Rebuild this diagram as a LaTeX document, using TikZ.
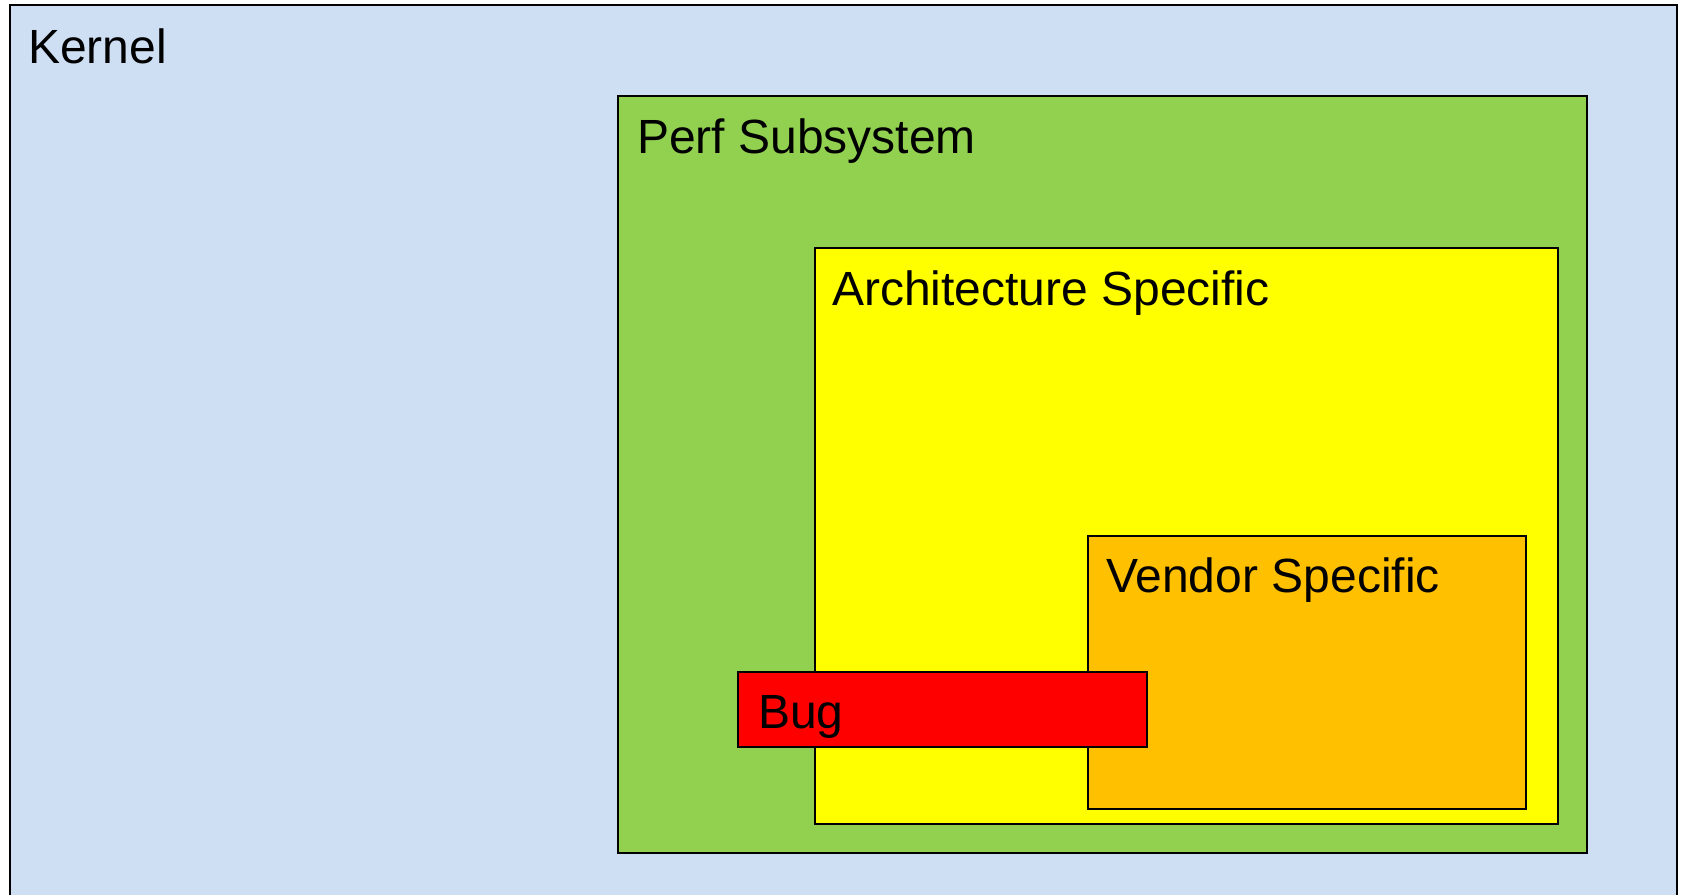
\documentclass[tikz,border=0pt]{standalone}
\usepackage{fontspec}
\setmainfont{Liberation Sans}
\definecolor{kernelblue}{HTML}{CFDFF3}
\definecolor{perfgreen}{HTML}{92D050}
\definecolor{archyellow}{HTML}{FFFF00}
\definecolor{vendororange}{HTML}{FFC000}
\definecolor{bugred}{HTML}{FF0000}
\tikzset{
  layer/.style={draw=black, line width=2.2pt, rectangle, anchor=north west, inner sep=0pt, outer sep=0pt},
  tag/.style={anchor=base west, inner sep=0pt, font=\fontsize{48}{57}\selectfont, text=black}
}
\begin{document}
\begin{tikzpicture}[x=1pt, y=-1pt]
  \useasboundingbox (0,0) rectangle (1683,894);
  \fill[white] (0,0) rectangle (1683,894);
  \clip (0,0) rectangle (1683,894);
  % nested layers, outermost first
  \node[layer, fill=kernelblue, minimum width=1667pt, minimum height=920pt] (kernel) at (10,5) {};
  \node[layer, fill=perfgreen, minimum width=969pt, minimum height=757pt] (perf) at (618,96) {};
  \node[layer, fill=archyellow, minimum width=743pt, minimum height=576pt] (arch) at (815,248) {};
  \node[layer, fill=vendororange, minimum width=438pt, minimum height=273pt] (vendor) at (1088,536) {};
  \node[layer, fill=bugred, minimum width=409pt, minimum height=75pt] (bug) at (738,672) {};
  % layer titles
  \node[tag] (kerneltitle) at (28,63) {Kernel};
  \node[tag] (perftitle) at (637,153) {Perf Subsystem};
  \node[tag] (archtitle) at (832,305) {Architecture Specific};
  \node[tag] (vendortitle) at (1106,592) {Vendor Specific};
  \node[tag] (bugtitle) at (758,728) {Bug};
\end{tikzpicture}
\end{document}
